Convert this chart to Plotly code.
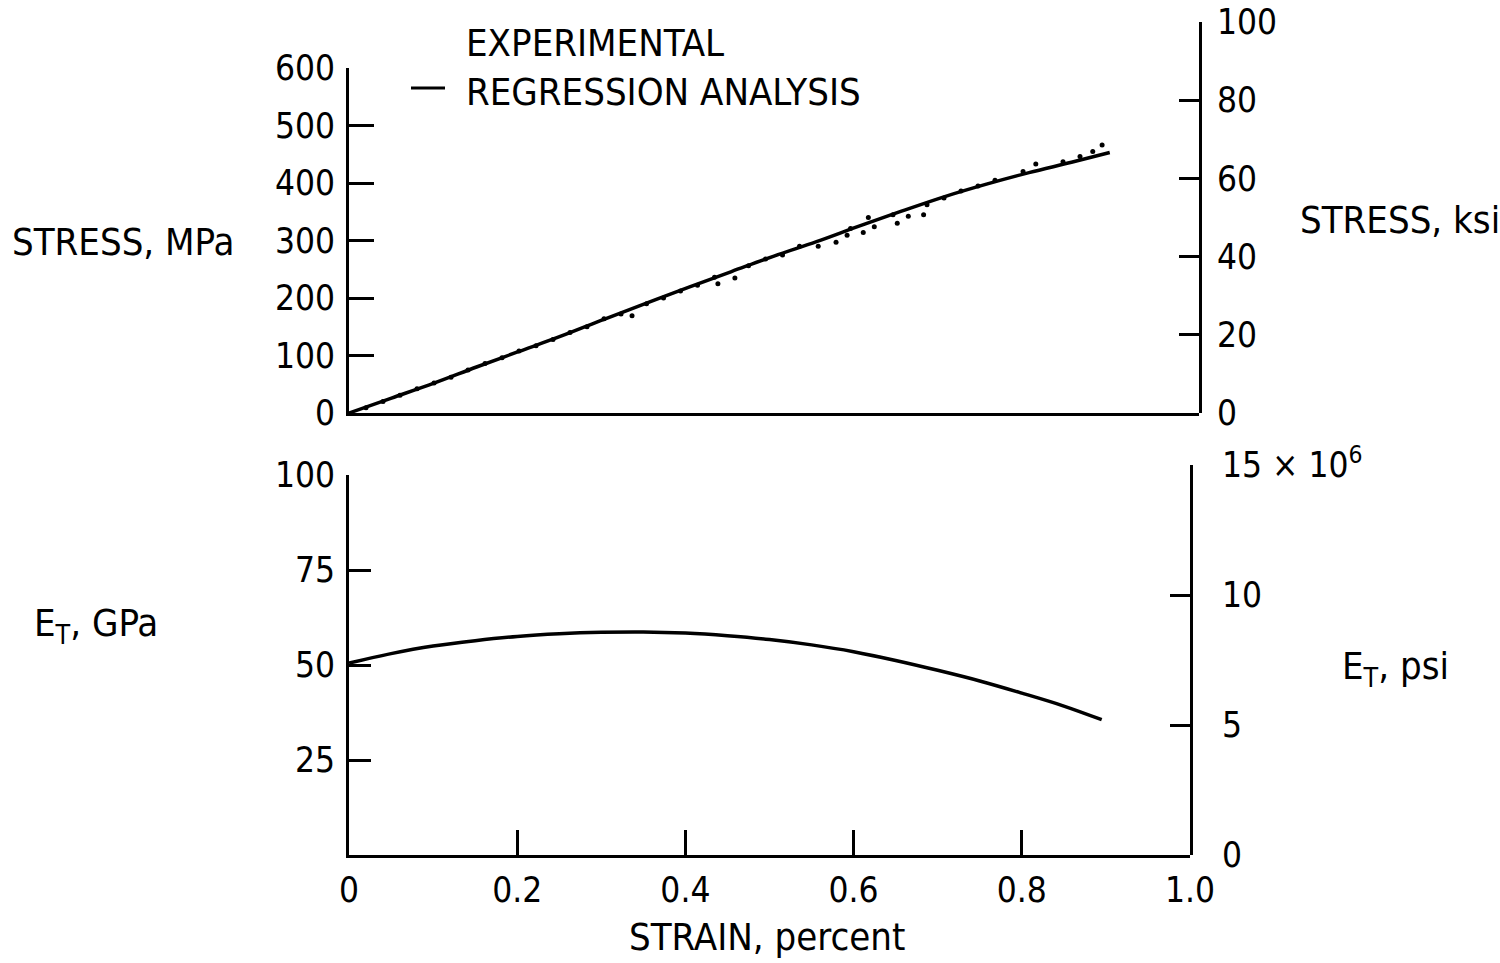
import plotly.graph_objects as go

# ---------------- data ----------------
strain_fit = [0.0, 0.05, 0.10, 0.15, 0.20, 0.25, 0.30, 0.35, 0.40, 0.45,
              0.50, 0.55, 0.60, 0.65, 0.70, 0.75, 0.80, 0.85, 0.895]
stress_fit_mpa = [0, 26, 52, 80, 107, 134, 163, 191, 219, 246,
                  273, 298, 325, 351, 376, 398, 418, 436, 453]
modulus_fit_gpa = [50.5, 53.0, 55.0, 56.4, 57.5, 58.2, 58.6, 58.7, 58.4, 57.7,
                   56.7, 55.3, 53.5, 51.2, 48.6, 45.8, 42.6, 39.2, 35.6]

strain_exp = [0.02, 0.04, 0.06, 0.08, 0.10, 0.12, 0.14, 0.16, 0.18, 0.20,
              0.22, 0.24, 0.26, 0.28, 0.30, 0.32, 0.333, 0.35, 0.37, 0.39,
              0.41, 0.434, 0.43, 0.454, 0.47, 0.49, 0.51, 0.53, 0.552, 0.573,
              0.586, 0.59, 0.605, 0.611, 0.618, 0.64, 0.645, 0.658, 0.676, 0.68,
              0.70, 0.72, 0.74, 0.76, 0.793, 0.808, 0.84, 0.86, 0.875, 0.886]
stress_exp_mpa = [9, 20, 31, 42, 52, 62, 75, 86, 96, 108,
                  117, 128, 140, 150, 164, 172, 169, 190, 200, 212,
                  222, 225, 236, 235, 256, 268, 275, 290, 290, 297,
                  309, 321, 314, 340, 324, 345, 330, 342, 345, 362,
                  374, 386, 395, 405, 420, 433, 437, 446, 455, 466]

left_ticks_top = [0, 100, 200, 300, 400, 500, 600]
right_ticks_top = [0, 20, 40, 60, 80, 100]
left_ticks_bot = [25, 50, 75, 100]
right_ticks_bot = [0, 5, 10, 15]
right_ticktext_bot = ["0", "5", "10", "15 \u00d7 10<sup>6</sup>"]
x_ticks = [0, 0.2, 0.4, 0.6, 0.8, 1.0]
x_ticktext = ["0", "0.2", "0.4", "0.6", "0.8", "1.0"]

# ---------------- layout helpers ----------------
W, H = 1500, 963
FONT = "DejaVu Sans Condensed, DejaVu Sans, sans-serif"
FS = 38
TFS = 35


def px_x(p):
    return p / W


def px_y(p):
    return (H - p) / H


fig = go.Figure()

fig.add_trace(go.Scatter(
    x=strain_exp, y=stress_exp_mpa, mode="markers",
    marker=dict(color="black", size=5), xaxis="x", yaxis="y",
    name="EXPERIMENTAL", showlegend=False))
fig.add_trace(go.Scatter(
    x=strain_fit, y=stress_fit_mpa, mode="lines", line_shape="spline",
    line=dict(color="black", width=3.5), xaxis="x", yaxis="y",
    name="REGRESSION ANALYSIS", showlegend=False))
fig.add_trace(go.Scatter(
    x=strain_fit, y=modulus_fit_gpa, mode="lines", line_shape="spline",
    line=dict(color="black", width=3.5), xaxis="x2", yaxis="y2",
    showlegend=False))
# empty traces so that the secondary (ksi / psi) axes get drawn
fig.add_trace(go.Scatter(x=[], y=[], xaxis="x", yaxis="y3",
                         showlegend=False, hoverinfo="skip"))
fig.add_trace(go.Scatter(x=[], y=[], xaxis="x2", yaxis="y4",
                         showlegend=False, hoverinfo="skip"))

axis_common = dict(showgrid=False, zeroline=False, showline=True,
                   linecolor="black", linewidth=3, ticks="inside",
                   tickcolor="black", tickwidth=2.5, automargin=False,
                   tickfont=dict(family=FONT, size=TFS, color="black"))

top_base = 413
fig.update_layout(
    template="none",
    width=W, height=H,
    margin=dict(l=0, r=0, t=0, b=0, pad=0, autoexpand=False),
    paper_bgcolor="white", plot_bgcolor="rgba(0,0,0,0)",
    font=dict(family=FONT, size=FS, color="black"),
    showlegend=False,
    xaxis=dict(domain=[px_x(349), px_x(1199)], anchor="y", range=[0, 1],
               showticklabels=False, showgrid=False, zeroline=False,
               showline=True, linecolor="black", linewidth=3, ticks="",
               automargin=False),
    yaxis=dict(domain=[px_y(top_base), px_y(68)], anchor="x", range=[0, 600],
               tickvals=left_ticks_top, ticklen=25, ticklabelstandoff=4,
               **axis_common),
    yaxis3=dict(domain=[px_y(top_base), px_y(22)], anchor="x", side="right",
                range=[0, 100], tickvals=right_ticks_top, ticklen=20,
                ticklabelstandoff=8, **axis_common),
    xaxis2=dict(domain=[px_x(349), px_x(1190)], anchor="y2", range=[0, 1],
                tickvals=x_ticks, ticktext=x_ticktext, ticklen=25,
                ticklabelstandoff=2, **axis_common),
    yaxis2=dict(domain=[px_y(855), px_y(475)], anchor="x2", range=[0, 100],
                tickvals=left_ticks_bot, ticklen=22, ticklabelstandoff=4,
                **axis_common),
    yaxis4=dict(domain=[px_y(855), px_y(465)], anchor="x2", side="right",
                range=[0, 15], tickvals=right_ticks_bot,
                ticktext=right_ticktext_bot, ticklen=20,
                ticklabelstandoff=22, **axis_common),
)

ann = dict(xref="paper", yref="paper", showarrow=False,
           font=dict(family=FONT, size=FS, color="black"))
fig.add_annotation(text="EXPERIMENTAL", x=px_x(464), y=px_y(43),
                   xanchor="left", yanchor="middle", **ann)
fig.add_annotation(text="REGRESSION ANALYSIS", x=px_x(464), y=px_y(92),
                   xanchor="left", yanchor="middle", **ann)
fig.add_annotation(text="STRESS, MPa", x=px_x(10), y=px_y(242),
                   xanchor="left", yanchor="middle", **ann)
fig.add_annotation(text="STRESS, ksi", x=px_x(1298), y=px_y(220),
                   xanchor="left", yanchor="middle", **ann)
fig.add_annotation(text="E<sub>T</sub>, GPa", x=px_x(32), y=px_y(625),
                   xanchor="left", yanchor="middle", **ann)
fig.add_annotation(text="E<sub>T</sub>, psi", x=px_x(1340), y=px_y(668),
                   xanchor="left", yanchor="middle", **ann)
fig.add_annotation(text="STRAIN, percent", x=px_x(767), y=px_y(937),
                   xanchor="center", yanchor="middle", **ann)

# legend line sample
fig.add_shape(type="line", xref="paper", yref="paper",
              x0=px_x(411), x1=px_x(445), y0=px_y(88), y1=px_y(88),
              line=dict(color="black", width=3))

fig.write_html("out.html")
